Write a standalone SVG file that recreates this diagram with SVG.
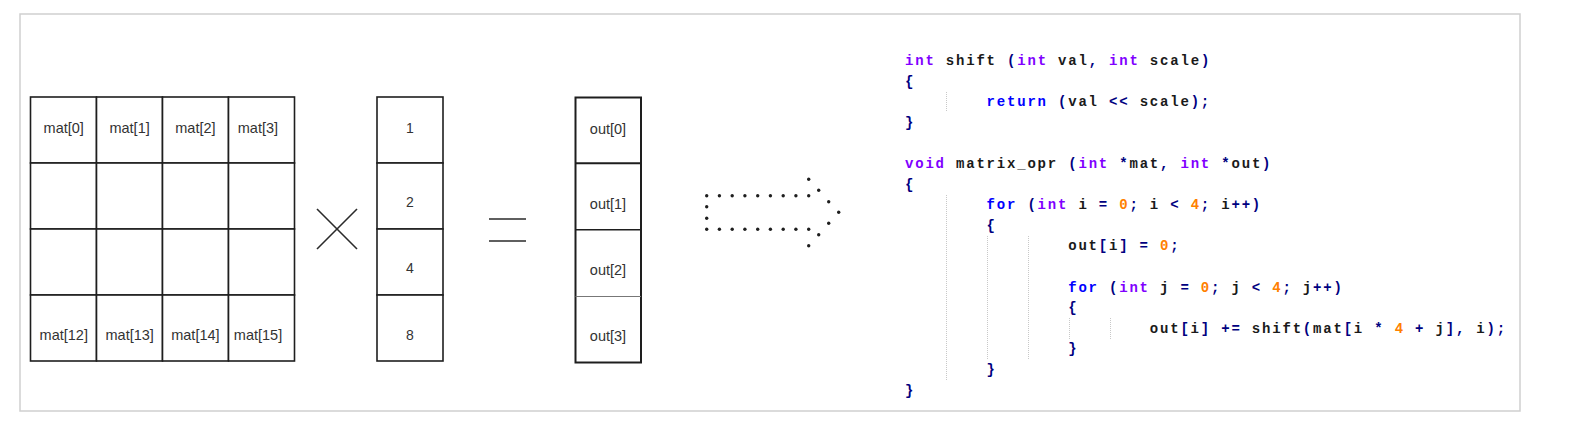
<svg xmlns="http://www.w3.org/2000/svg" width="1592" height="441" viewBox="0 0 1592 441">
<style>
.frame{fill:#fff;stroke:#cfcfcf;stroke-width:1.5}
.cell{fill:#fff;stroke:#1e1e1e;stroke-width:1.6}
.lbl{font-family:"Liberation Sans",Arial,sans-serif;font-size:14.5px;fill:#333;text-anchor:middle}
.num{font-family:"Liberation Sans",Arial,sans-serif;font-size:14px;fill:#333;text-anchor:middle}
.sym{stroke:#2a2a2a;stroke-width:1.6;fill:none}
.dot{fill:#1e1e1e}
.code{font-family:"Liberation Mono","Courier New",monospace;font-size:14px;font-weight:bold;letter-spacing:1.8px;fill:#1a1a1a;white-space:pre}
.k{fill:#8000ff}
.i{fill:#0000ff}
.n{fill:#ff8000}
.o{fill:#000080}
.guide{stroke:#c8c8c8;stroke-width:1;stroke-dasharray:1 1}
</style>
<rect class="frame" x="20" y="14" width="1500" height="397"/>
<g id="matrix">
<rect class="cell" x="30.5" y="97" width="66" height="66"/>
<rect class="cell" x="96.5" y="97" width="66" height="66"/>
<rect class="cell" x="162.5" y="97" width="66" height="66"/>
<rect class="cell" x="228.5" y="97" width="66" height="66"/>
<rect class="cell" x="30.5" y="163" width="66" height="66"/>
<rect class="cell" x="96.5" y="163" width="66" height="66"/>
<rect class="cell" x="162.5" y="163" width="66" height="66"/>
<rect class="cell" x="228.5" y="163" width="66" height="66"/>
<rect class="cell" x="30.5" y="229" width="66" height="66"/>
<rect class="cell" x="96.5" y="229" width="66" height="66"/>
<rect class="cell" x="162.5" y="229" width="66" height="66"/>
<rect class="cell" x="228.5" y="229" width="66" height="66"/>
<rect class="cell" x="30.5" y="295" width="66" height="66"/>
<rect class="cell" x="96.5" y="295" width="66" height="66"/>
<rect class="cell" x="162.5" y="295" width="66" height="66"/>
<rect class="cell" x="228.5" y="295" width="66" height="66"/>
<text class="lbl" x="63.7" y="132.5">mat[0]</text>
<text class="lbl" x="129.6" y="132.5">mat[1]</text>
<text class="lbl" x="195.4" y="132.5">mat[2]</text>
<text class="lbl" x="257.9" y="132.5">mat[3]</text>
<text class="lbl" x="63.8" y="340">mat[12]</text>
<text class="lbl" x="129.7" y="340">mat[13]</text>
<text class="lbl" x="195.4" y="340">mat[14]</text>
<text class="lbl" x="258" y="340">mat[15]</text>
</g>
<g id="times">
<line class="sym" x1="317" y1="209" x2="357" y2="249"/>
<line class="sym" x1="357" y1="209" x2="317" y2="249"/>
</g>
<g id="vector">
<rect class="cell" x="377" y="97" width="66" height="66"/>
<rect class="cell" x="377" y="163" width="66" height="66"/>
<rect class="cell" x="377" y="229" width="66" height="66"/>
<rect class="cell" x="377" y="295" width="66" height="66"/>
<text class="num" x="410" y="132.7">1</text>
<text class="num" x="410" y="207.3">2</text>
<text class="num" x="410" y="273.3">4</text>
<text class="num" x="410" y="340">8</text>
</g>
<g id="equals">
<line class="sym" x1="489" y1="219" x2="526" y2="219"/>
<line class="sym" x1="489" y1="241" x2="526" y2="241"/>
</g>
<g id="out">
<rect class="cell" x="575.5" y="97.5" width="65.5" height="265" style="stroke-width:2"/>
<line x1="575.5" y1="163.3" x2="641" y2="163.3" stroke="#1e1e1e" stroke-width="2"/>
<line x1="575.5" y1="229.7" x2="641" y2="229.7" stroke="#1e1e1e" stroke-width="1.6"/>
<line x1="575.5" y1="296.5" x2="641" y2="296.5" stroke="#777" stroke-width="1"/>
<text class="lbl" x="608" y="134">out[0]</text>
<text class="lbl" x="608" y="208.7">out[1]</text>
<text class="lbl" x="608" y="274.7">out[2]</text>
<text class="lbl" x="608" y="341">out[3]</text>
</g>
<g id="arrow">
<circle class="dot" cx="706.7" cy="195.7" r="1.7"/>
<circle class="dot" cx="719.4" cy="195.7" r="1.7"/>
<circle class="dot" cx="732.2" cy="195.7" r="1.7"/>
<circle class="dot" cx="744.9" cy="195.7" r="1.7"/>
<circle class="dot" cx="757.7" cy="195.7" r="1.7"/>
<circle class="dot" cx="770.4" cy="195.7" r="1.7"/>
<circle class="dot" cx="783.2" cy="195.7" r="1.7"/>
<circle class="dot" cx="795.9" cy="195.7" r="1.7"/>
<circle class="dot" cx="808.7" cy="195.7" r="1.7"/>
<circle class="dot" cx="706.7" cy="229.3" r="1.7"/>
<circle class="dot" cx="719.4" cy="229.3" r="1.7"/>
<circle class="dot" cx="732.2" cy="229.3" r="1.7"/>
<circle class="dot" cx="744.9" cy="229.3" r="1.7"/>
<circle class="dot" cx="757.7" cy="229.3" r="1.7"/>
<circle class="dot" cx="770.4" cy="229.3" r="1.7"/>
<circle class="dot" cx="783.2" cy="229.3" r="1.7"/>
<circle class="dot" cx="795.9" cy="229.3" r="1.7"/>
<circle class="dot" cx="808.7" cy="229.3" r="1.7"/>
<circle class="dot" cx="706.7" cy="206.7" r="1.7"/>
<circle class="dot" cx="706.7" cy="218.3" r="1.7"/>
<circle class="dot" cx="808.7" cy="179.3" r="1.7"/>
<circle class="dot" cx="818.7" cy="190.3" r="1.7"/>
<circle class="dot" cx="828.7" cy="201.7" r="1.7"/>
<circle class="dot" cx="838.7" cy="212.3" r="1.7"/>
<circle class="dot" cx="828.7" cy="223.3" r="1.7"/>
<circle class="dot" cx="818.7" cy="234.7" r="1.7"/>
<circle class="dot" cx="808.7" cy="245.7" r="1.7"/>
</g>
<g id="code">
<line class="guide" x1="946.5" y1="92" x2="946.5" y2="112"/>
<line class="guide" x1="946.5" y1="195" x2="946.5" y2="380"/>
<line class="guide" x1="987.5" y1="236" x2="987.5" y2="360"/>
<line class="guide" x1="1028.5" y1="236" x2="1028.5" y2="360"/>
<line class="guide" x1="1069.5" y1="318" x2="1069.5" y2="339"/>
<line class="guide" x1="1110.5" y1="318" x2="1110.5" y2="339"/>
<text class="code" x="905" y="65"><tspan class="k">int</tspan> shift <tspan class="o">(</tspan><tspan class="k">int</tspan> val<tspan class="o">,</tspan> <tspan class="k">int</tspan> scale<tspan class="o">)</tspan></text>
<text class="code o" x="905" y="85.6">{</text>
<text class="code" x="986.6" y="106.2"><tspan class="i">return</tspan> <tspan class="o">(</tspan>val <tspan class="o">&lt;&lt;</tspan> scale<tspan class="o">);</tspan></text>
<text class="code o" x="905" y="126.8">}</text>
<text class="code" x="905" y="168"><tspan class="k">void</tspan> matrix_opr <tspan class="o">(</tspan><tspan class="k">int</tspan> <tspan class="o">*</tspan>mat<tspan class="o">,</tspan> <tspan class="k">int</tspan> <tspan class="o">*</tspan>out<tspan class="o">)</tspan></text>
<text class="code o" x="905" y="188.6">{</text>
<text class="code" x="986.6" y="209.2"><tspan class="i">for</tspan> <tspan class="o">(</tspan><tspan class="k">int</tspan> i <tspan class="o">=</tspan> <tspan class="n">0</tspan><tspan class="o">;</tspan> i <tspan class="o">&lt;</tspan> <tspan class="n">4</tspan><tspan class="o">;</tspan> i<tspan class="o">++)</tspan></text>
<text class="code o" x="986.6" y="229.8">{</text>
<text class="code" x="1068.2" y="250.4">out<tspan class="o">[</tspan>i<tspan class="o">]</tspan> <tspan class="o">=</tspan> <tspan class="n">0</tspan><tspan class="o">;</tspan></text>
<text class="code" x="1068.2" y="291.6"><tspan class="i">for</tspan> <tspan class="o">(</tspan><tspan class="k">int</tspan> j <tspan class="o">=</tspan> <tspan class="n">0</tspan><tspan class="o">;</tspan> j <tspan class="o">&lt;</tspan> <tspan class="n">4</tspan><tspan class="o">;</tspan> j<tspan class="o">++)</tspan></text>
<text class="code o" x="1068.2" y="312.2">{</text>
<text class="code" x="1149.8" y="332.8">out<tspan class="o">[</tspan>i<tspan class="o">]</tspan> <tspan class="o">+=</tspan> shift<tspan class="o">(</tspan>mat<tspan class="o">[</tspan>i <tspan class="o">*</tspan> <tspan class="n">4</tspan> <tspan class="o">+</tspan> j<tspan class="o">],</tspan> i<tspan class="o">);</tspan></text>
<text class="code o" x="1068.2" y="353.4">}</text>
<text class="code o" x="986.6" y="374">}</text>
<text class="code o" x="905" y="394.6">}</text>
</g>
</svg>
